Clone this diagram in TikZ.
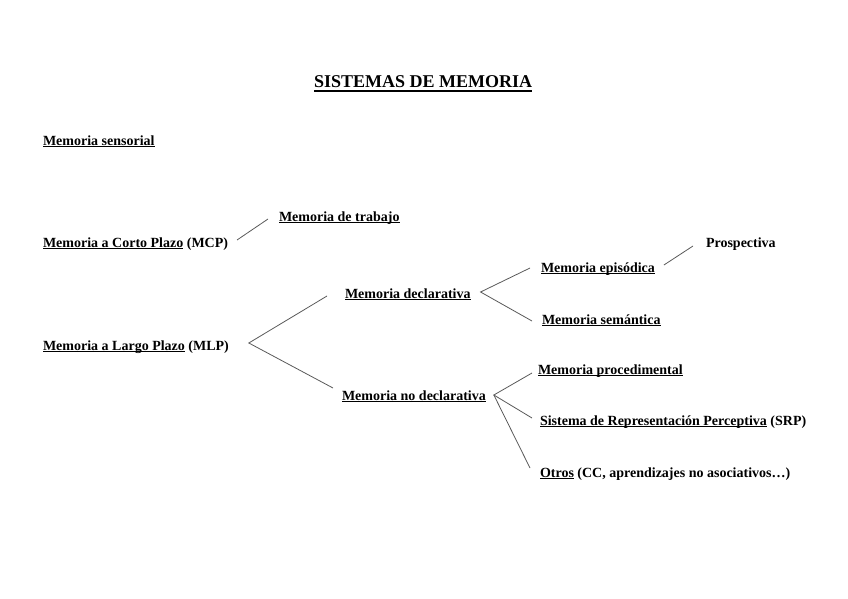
\documentclass[tikz,border=0pt]{standalone}
\usepackage{fontspec}
\setmainfont{Liberation Serif}
\usetikzlibrary{calc}
\newcommand\myul[1]{\setbox0\hbox{#1}\rlap{\rule[-2.2pt]{\wd0}{0.9pt}}\box0\relax}
\newcommand\mytul[1]{\setbox0\hbox{#1}\rlap{\rule[-3.6pt]{\wd0}{1.3pt}}\box0\relax}
\tikzset{
  lbl/.style={anchor=base west, inner sep=0pt, outer sep=0pt, font=\fontsize{14}{16}\selectfont\bfseries},
  ttl/.style={anchor=base west, inner sep=0pt, outer sep=0pt, font=\fontsize{18}{20}\selectfont\bfseries},
  conn/.style={draw=black!65, line width=0.8pt}
}
\begin{document}
\begin{tikzpicture}[x=1pt,y=-1pt]
\useasboundingbox (0,0) rectangle (848,599);
\node[ttl] (title) at (314,88) {\mytul{SISTEMAS DE MEMORIA}};
\node[lbl] (sens) at (43,145) {\myul{Memoria sensorial}};
\node[lbl] (mcp) at (43,247) {\myul{Memoria a Corto Plazo} (MCP)};
\node[lbl] (trab) at (279,221) {\myul{Memoria de trabajo}};
\node[lbl] (mlp) at (43,350) {\myul{Memoria a Largo Plazo} (MLP)};
\node[lbl] (decl) at (345,298) {\myul{Memoria declarativa}};
\node[lbl] (nodecl) at (342,400) {\myul{Memoria no declarativa}};
\node[lbl] (epis) at (541,272) {\myul{Memoria episódica}};
\node[lbl] (sem) at (542,324) {\myul{Memoria semántica}};
\node[lbl] (prosp) at (706,247) {Prospectiva};
\node[lbl] (proc) at (538,374) {\myul{Memoria procedimental}};
\node[lbl] (srp) at (540,425) {\myul{Sistema de Representación Perceptiva} (SRP)};
\node[lbl] (otros) at (540,477) {\myul{Otros} (CC, aprendizajes no asociativos…)};

\draw[conn] ($(mcp.base east)+(9,-7)$) -- ($(trab.base west)+(-11,-2)$);
\draw[conn] ($(decl.base west)+(-18,-2)$) -- ($(mlp.base east)+(20,-7)$) -- ($(nodecl.base west)+(-9,-12)$);
\draw[conn] ($(epis.base west)+(-11,-4)$) -- ($(decl.base east)+(10,-6)$) -- ($(sem.base west)+(-10,-3)$);
\draw[conn] ($(epis.base east)+(9,-7)$) -- ($(prosp.base west)+(-13,-1)$);
\draw[conn] ($(proc.base west)+(-6,-1)$) -- ($(nodecl.base east)+(8,-5)$) -- ($(srp.base west)+(-8,-7)$);
\draw[conn] ($(nodecl.base east)+(8,-5)$) -- ($(otros.base west)+(-10,-9)$);
\end{tikzpicture}
\end{document}
